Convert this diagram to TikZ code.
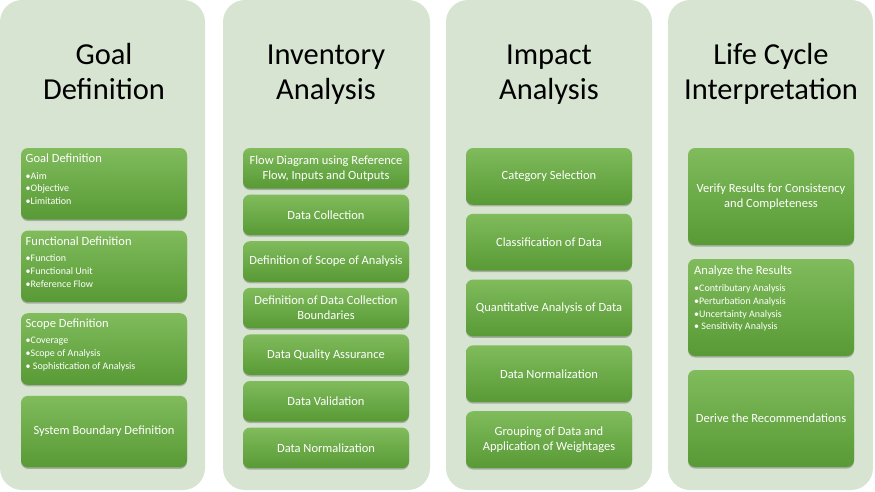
\documentclass[tikz,border=0pt]{standalone}
\usepackage{fontspec}
\setmainfont{Carlito}
\usetikzlibrary{shadows}
\definecolor{colbg}{HTML}{D7E4D1}
\definecolor{gtop}{HTML}{80BB5C}
\definecolor{gbot}{HTML}{589A35}
\tikzset{
  colpanel/.style={fill=colbg, draw=none, rounded corners=22pt},
  gbox/.style={rectangle, rounded corners=7pt, top color=gtop, bottom color=gbot,
    draw=none, minimum width=166pt, text=white, align=center, inner sep=2pt,
    font=\fontsize{12.5}{15}\selectfont,
    drop shadow={shadow xshift=0pt, shadow yshift=-1.5pt, opacity=0.35, fill=black!70}},
  ttl/.style={font=\fontsize{30.5}{35}\selectfont, anchor=base, text=black, inner sep=0pt},
  hd/.style={anchor=base west, text=white, font=\fontsize{12.5}{15}\selectfont, inner sep=0pt},
  bl/.style={anchor=north west, text=white, align=left, inner sep=0pt,
    font=\fontsize{10}{12.7}\selectfont},
}
\begin{document}
\begin{tikzpicture}[x=1pt,y=-1pt]
\useasboundingbox (0,0) rectangle (875,492);
% column panels
\path[colpanel] (0,0) rectangle (205,490);
\path[colpanel] (223,0) rectangle (430,490);
\path[colpanel] (446,0) rectangle (652,490);
\path[colpanel] (668,0) rectangle (873,490);
% titles
\node[ttl] (t1a) at (104,65) {Goal};
\node[ttl] (t1b) at (104,100) {Definition};
\node[ttl] (t2a) at (326,65) {Inventory};
\node[ttl] (t2b) at (326,100) {Analysis};
\node[ttl] (t3a) at (549,65) {Impact};
\node[ttl] (t3b) at (549,100) {Analysis};
\node[ttl] (t4a) at (771,65) {Life Cycle};
\node[ttl] (t4b) at (771,100) {Interpretation};
% column 1
\node[gbox, minimum height=71.6pt] (g1) at (104,183.8) {};
\node[gbox, minimum height=71.6pt] (g2) at (104,266.4) {};
\node[gbox, minimum height=71.6pt] (g3) at (104,349) {};
\node[gbox, minimum height=71.6pt] (g4) at (104,431.6) {System Boundary Definition};
\node[hd] (g1h) at (25.5,162) {Goal Definition};
\node[bl] (g1b) at (25.5,172) {•Aim\\•Objective\\•Limitation};
\node[hd] (g2h) at (25.5,245) {Functional Definition};
\node[bl] (g2b) at (25.5,254.5) {•Function\\•Functional Unit\\•Reference Flow};
\node[hd] (g3h) at (25.5,327.5) {Scope Definition};
\node[bl] (g3b) at (25.5,337) {•Coverage\\•Scope of Analysis\\• Sophistication of Analysis};
% column 2
\node[gbox, minimum height=40.6pt] (i1) at (326,168.3) {Flow Diagram using Reference\\Flow, Inputs and Outputs};
\node[gbox, minimum height=40.6pt] (i2) at (326,214.9) {Data Collection};
\node[gbox, minimum height=40.6pt] (i3) at (326,261.5) {Definition of Scope of Analysis};
\node[gbox, minimum height=40.6pt] (i4) at (326,308.1) {Definition of Data Collection\\Boundaries};
\node[gbox, minimum height=40.6pt] (i5) at (326,354.7) {Data Quality Assurance};
\node[gbox, minimum height=40.6pt] (i6) at (326,401.3) {Data Validation};
\node[gbox, minimum height=40.6pt] (i7) at (326,447.9) {Data Normalization};
% column 3
\node[gbox, minimum height=56.8pt] (m1) at (549,176.4) {Category Selection};
\node[gbox, minimum height=56.8pt] (m2) at (549,242.2) {Classification of Data};
\node[gbox, minimum height=56.8pt] (m3) at (549,308) {Quantitative Analysis of Data};
\node[gbox, minimum height=56.8pt] (m4) at (549,373.8) {Data Normalization};
\node[gbox, minimum height=56.8pt] (m5) at (549,439.6) {Grouping of Data and\\Application of Weightages};
% column 4
\node[gbox, minimum height=97pt] (l1) at (771,196.5) {Verify Results for Consistency\\and Completeness};
\node[gbox, minimum height=97pt] (l2) at (771,307.5) {};
\node[gbox, minimum height=97pt] (l3) at (771,418.5) {Derive the Recommendations};
\node[hd] (l2h) at (694,274) {Analyze the Results};
\node[bl] (l2b) at (694,284.5) {•Contributary Analysis\\•Perturbation Analysis\\•Uncertainty Analysis\\• Sensitivity Analysis};
\end{tikzpicture}
\end{document}
